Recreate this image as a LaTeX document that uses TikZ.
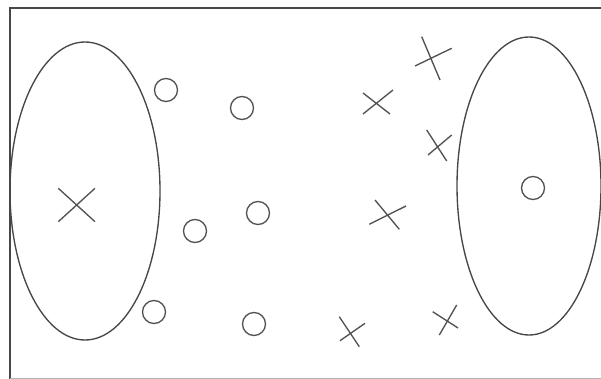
\documentclass[tikz,border=0pt]{standalone}
\begin{document}
\begin{tikzpicture}[x=1pt,y=-1pt,
  outl/.style={draw=black!72,line width=1.35pt},
  symb/.style={draw=black!68,line width=1.35pt},
  frm/.style={draw=black!72,line width=1.6pt}]
\useasboundingbox (0,0) rectangle (601,379);
% frame
\draw[frm] (602,8) -- (10,8) -- (10,379);
\draw[draw=black!30,line width=1pt] (10,378) -- (602,378);
% ellipses
\draw[outl] (85,191) ellipse [x radius=75, y radius=149];
\draw[outl] (529,186) ellipse [x radius=72, y radius=149];
% circles
\foreach \p in {(166,90),(242,108),(195,231),(258,213),(154,312),(254,324),(533,188)}
  \draw[symb] \p circle [radius=11.5];
% crosses
\draw[symb] (58.3,188.3) -- (95,221.7) (58.3,221.7) -- (95,188.3);
\draw[symb] (421.7,36.7) -- (440,80) (415,66) -- (451.7,48.3);
\draw[symb] (363,93) -- (390,114) (363,114) -- (393,90);
\draw[symb] (426.7,130) -- (446.7,161) (428,155) -- (451.7,135);
\draw[symb] (375,200) -- (399.3,229.3) (369.3,224.3) -- (406,206);
\draw[symb] (339.3,316.7) -- (359.3,346.7) (340,340.7) -- (365,323.3);
\draw[symb] (456.7,305) -- (439.3,335) (432.7,311.7) -- (458,328);
\end{tikzpicture}
\end{document}
